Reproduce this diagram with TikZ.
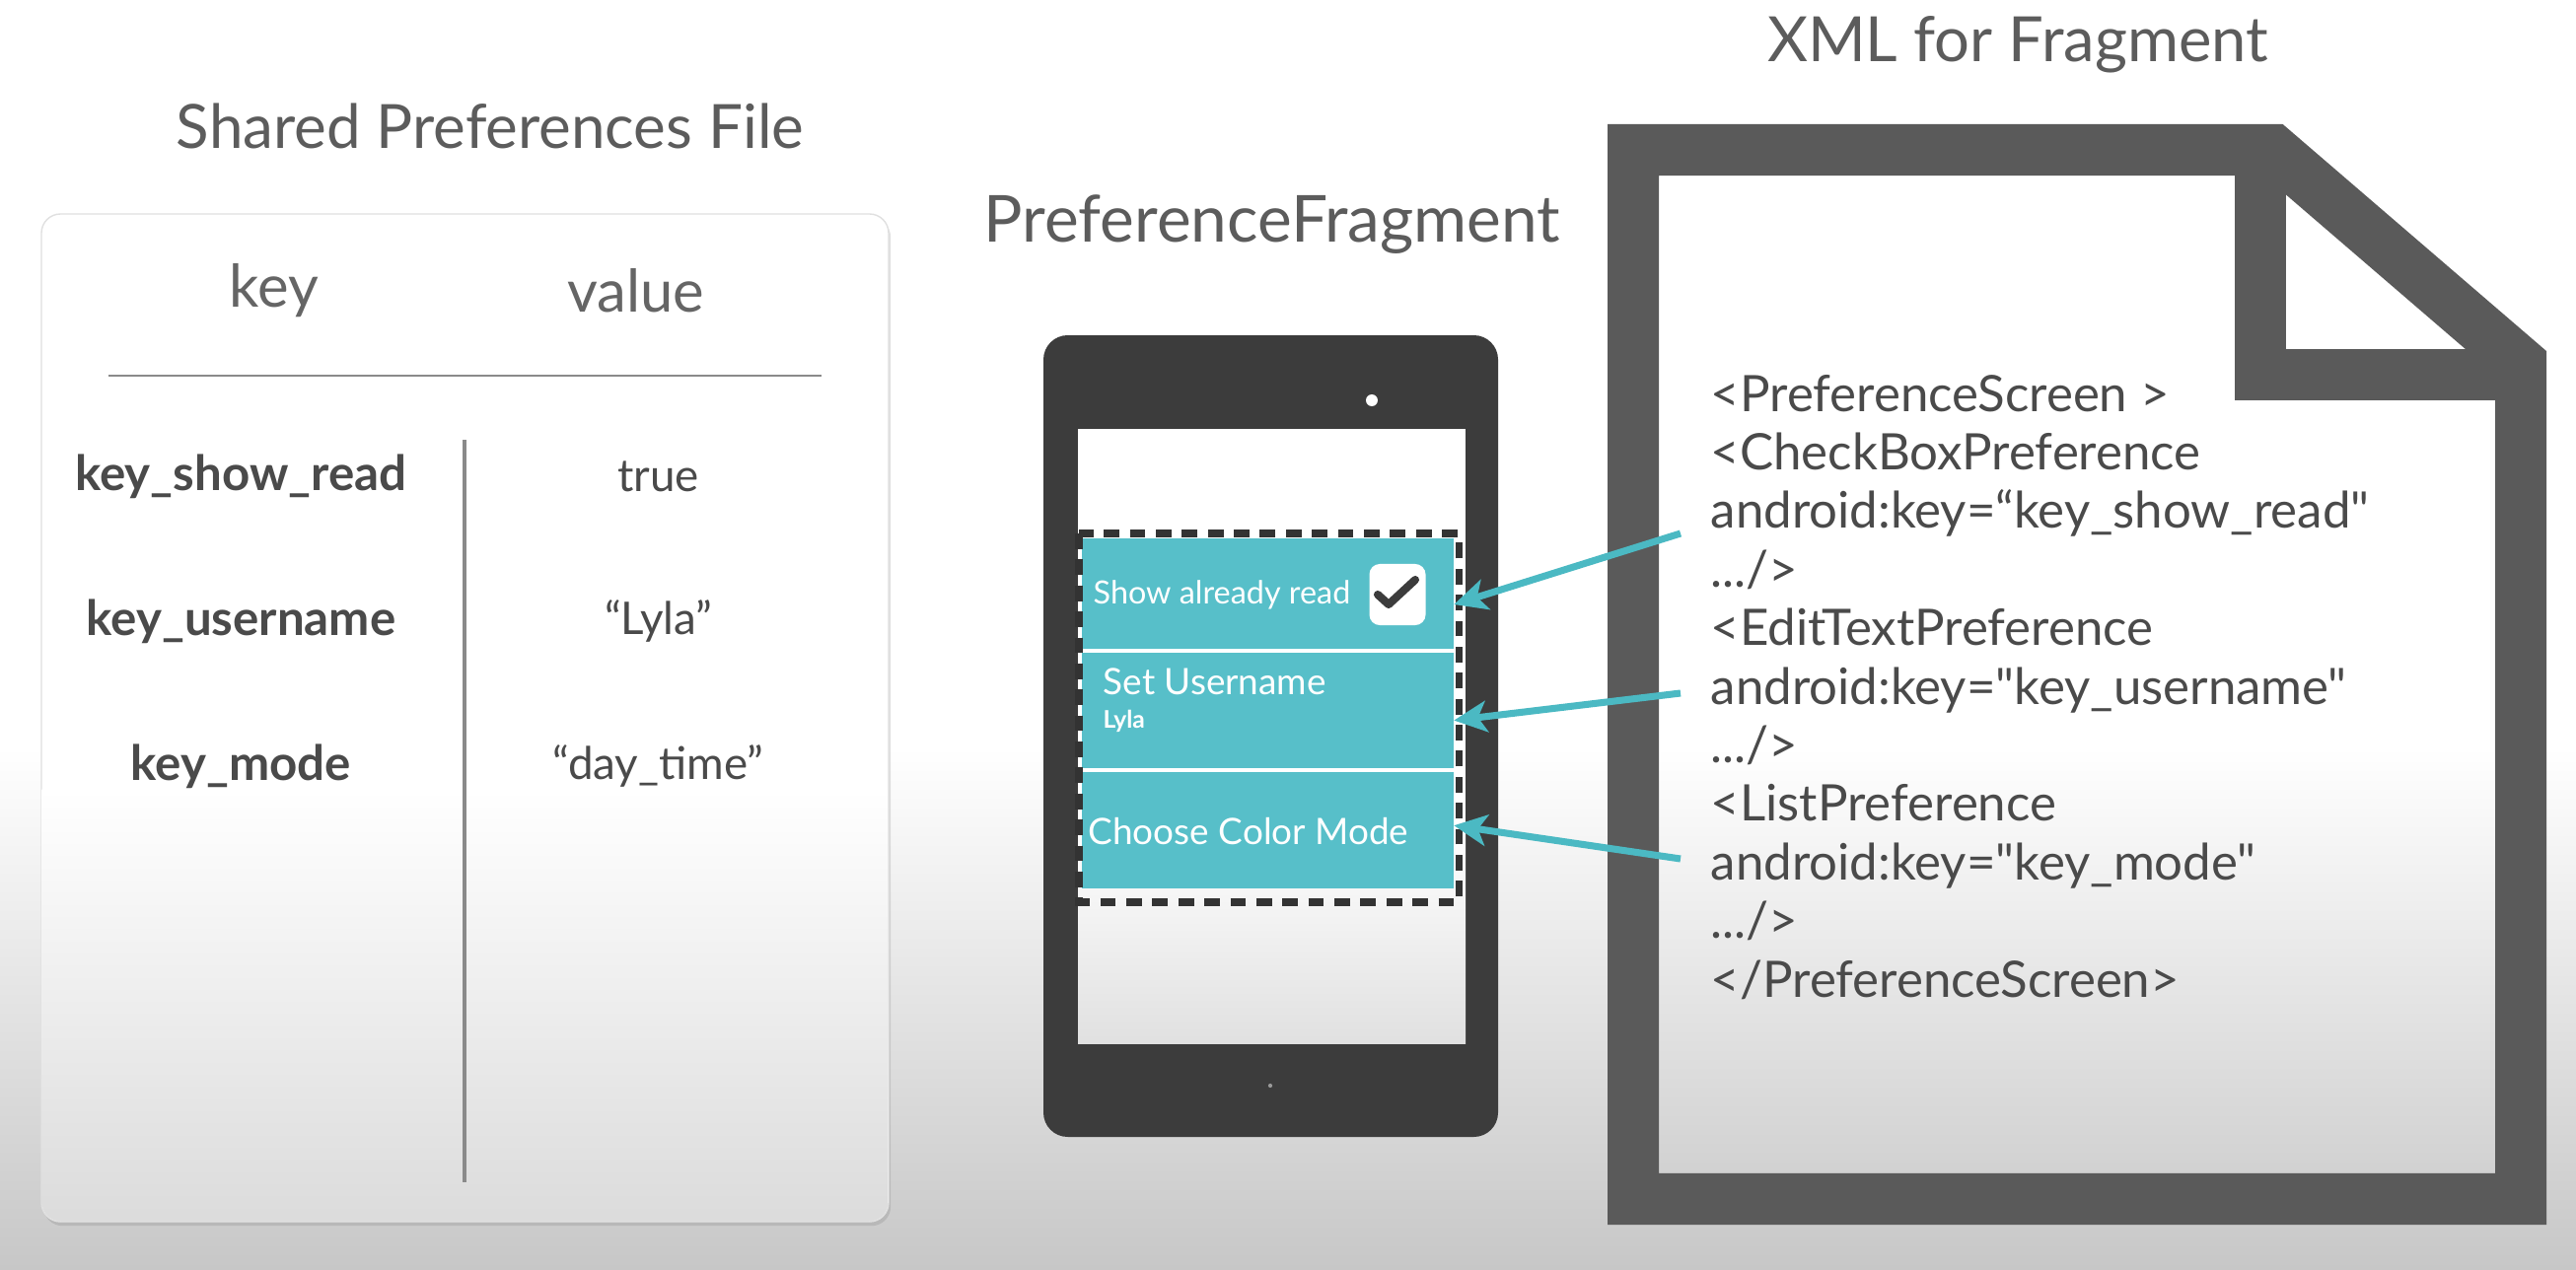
\documentclass[tikz,border=0pt]{standalone}
\usepackage{fontspec}
\setmainfont{Lato}
\newfontfamily\xmlfont{Lato}
\usetikzlibrary{positioning}
\usetikzlibrary{calc}
\usetikzlibrary{arrows.meta}
\usetikzlibrary{shadows}
\definecolor{prefteal}{HTML}{57BFC9}
\definecolor{linkteal}{HTML}{4BB9C3}
\definecolor{phonegray}{HTML}{3C3C3C}
\definecolor{docgray}{HTML}{5A5A5A}
\definecolor{inkgray}{HTML}{4A4A4A}
\definecolor{rulegray}{HTML}{8A8A8A}
\tikzset{
	title/.style={
		font=\fontsize{18}{21}\selectfont,
		text=inkgray!90,
	},
	link/.style={
		draw=linkteal,
		line width=2pt,
		-{Stealth[length=9.5pt,width=9pt,inset=2.5pt]}
	},
	docframe/.style={
		draw=docgray,
		line width=0.52cm,
		line join=miter,
	},
}

\begin{document}
\begin{tikzpicture}
[x=0.01cm, y=-0.01cm,
card/.style ={rounded corners=5.5pt, draw=black!12, thin, fill=white,
drop shadow={opacity=0.25, shadow xshift=0.6pt, shadow yshift=-1.2pt}},
cell/.style ={text width=3.6cm, inner sep=0pt, align=center,
minimum height=0.8cm, font=\fontsize{13}{15}\selectfont, text=inkgray},
keycell/.style ={cell, font=\bfseries\fontsize{14}{16}\selectfont},
prefrow/.style ={rectangle, fill=prefteal, minimum width=3.77cm,
inner sep=0pt, outer sep=0pt},
rowtext/.style ={text=white, inner sep=0pt, anchor=west},
xmlline/.style ={font=\xmlfont\fontsize{14.5}{17}\selectfont, text=inkgray,
inner sep=0pt, anchor=base west}]
\useasboundingbox (0,0) rectangle (2612,1288);
\fill[white] (0,0) rectangle (2612,760);
\shade[top color=white, bottom color=black!22] (0,758) rectangle (2612,1288);

% key/value store
\node[title, font=\fontsize{17.6}{21}\selectfont] (sptitle) at (497,128) {Shared Preferences File};
\path[card] (42,217) rectangle (901,1239);
\begin{scope}
\clip[rounded corners=5.5pt] (42.5,217.5) rectangle (900.5,1238.5);
\shade[top color=white, bottom color=black!14] (42,800) rectangle (901,1240);
\end{scope}
\node[title, font=\fontsize{17}{20}\selectfont, text=inkgray!85] (hkey) at (278,295) {key};
\node[title, font=\fontsize{17}{20}\selectfont, text=inkgray!85] (hval) at (645,295) {value};
\draw[rulegray, line width=0.7pt] (110,381) -- (833,381);
\draw[rulegray, line width=1pt] (471,446) -- (471,1199);
\matrix (kv) at (456,630) [column sep=0.63cm, row sep=0.67cm]
{
\node [keycell] (kshow) {key\_show\_read};
&
\node [cell] (vshow) {true}; \\
% row 2
\node [keycell] (kuser) {key\_username};
&
\node [cell] (vuser) {“Lyla”}; \\
% row 3
\node [keycell] (kmode) {key\_mode};
&
\node [cell] (vmode) {“day\_time”}; \\
};

% tablet
\node[title, font=\fontsize{18.7}{22}\selectfont] (fragtitle) at (1290,228) {PreferenceFragment};
\fill[phonegray, rounded corners=7pt] (1058,340) rectangle (1519,1153);
\fill[white] (1093,435) rectangle (1486,1058);
\shade[top color=white, bottom color=black!12] (1093,840) rectangle (1486,1058);
\fill[white] (1391,406) circle (1.7pt);
\fill[black!40] (1288,1101) circle (0.6pt);

\node[prefrow, minimum height=1.14cm, anchor=north west] (rowshow) at (1097,546) {};
\node[prefrow, minimum height=1.21cm, below=0pt of rowshow] (rowuser) {};
\node[prefrow, minimum height=1.2cm, below=0pt of rowuser] (rowmode) {};
\draw[white, line width=1.3pt] (rowshow.south west) -- (rowshow.south east);
\draw[white, line width=1.3pt] (rowuser.south west) -- (rowuser.south east);
\draw[black!80, line width=2pt, dash pattern=on 4.5pt off 3pt] (1094,541) rectangle (1479,915);

\node[rowtext, font=\fontsize{9.2}{11}\selectfont] (showtxt) at (1108,603) {Show already read};
\node[fill=white, rounded corners=3pt, minimum width=0.57cm, minimum height=0.62cm, inner sep=0pt] (chk) at (1417,603) {};
\draw[phonegray, line width=2.3pt, line cap=round, line join=round]
  ($(chk.center)+(-20,0)$) -- ($(chk.center)+(-9,10)$) -- ($(chk.center)+(18,-15)$);
\node[rowtext, font=\fontsize{10.5}{12}\selectfont] (usertxt) at (1118,691) {Set Username};
\node[rowtext, font=\bfseries\fontsize{7}{8}\selectfont] (usersub) at (1118,731) {Lyla};
\node[rowtext, font=\fontsize{10.5}{12}\selectfont] (modetxt) at (1103,843) {Choose Color Mode};

% xml file
\node[title] (xmltitle) at (2046,45) {XML for Fragment};
\draw[docframe] (1656,1216) -- (1656,152) -- (2305,152) -- (2556,368) -- (2556,1216) -- cycle;
\draw[docframe] (2292,152) -- (2292,380) -- (2556,380);
\foreach \i/\t in {1/{<PreferenceScreen >},
                   2/{<CheckBoxPreference},
                   3/{android:key=“key\_show\_read"},
                   4/{.../>},
                   5/{<EditTextPreference},
                   6/{android:key="key\_username"},
                   7/{.../>},
                   8/{<ListPreference},
                   9/{android:key="key\_mode"},
                   10/{.../>},
                   11/{</PreferenceScreen>}}
  \node[xmlline] (xl\i) at (1734,417+59.4*\i-59.4) {\t};

\coordinate (fromshow) at (1704,541);
\coordinate (fromuser) at (1704,703);
\coordinate (frommode) at (1704,871);
\draw[link] (fromshow) -- ($(rowshow.east)+(0,10)$);
\draw[link] (fromuser) -- ($(rowuser.east)+(0,10)$);
\draw[link] (frommode) -- ($(rowmode.east)+(0,-4)$);
\end{tikzpicture}
\end{document}
